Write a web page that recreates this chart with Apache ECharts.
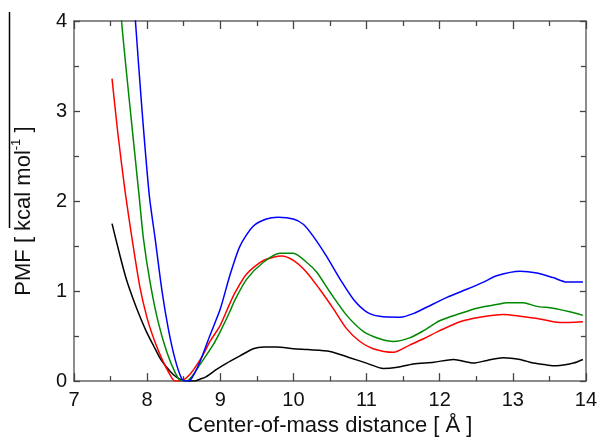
<!DOCTYPE html>
<html><head><meta charset="utf-8">
<script src="https://cdn.jsdelivr.net/npm/echarts@6/dist/echarts.min.js"></script>
<style>html,body{margin:0;padding:0;background:#fff}#c{width:600px;height:442px}</style>
</head><body><div id="c"></div>
<script>
// x: center-of-mass distance (Å), y: PMF (kcal/mol)
const xTicks = [7, 8, 9, 10, 11, 12, 13, 14];
const yTicks = [0, 1, 2, 3, 4];

const blackPMF = [[7.52,1.75],[7.63,1.39],[7.72,1.12],[7.81,0.91],[7.90,0.72],[7.99,0.55],[8.09,0.39],[8.18,0.25],[8.27,0.15],[8.36,0.07],[8.45,0.02],[8.55,0.0],[8.65,0.0],[8.72,0.02],[8.81,0.05],[8.95,0.13],[9.09,0.20],[9.27,0.28],[9.45,0.36],[9.6,0.38],[9.77,0.38],[10.0,0.36],[10.2,0.35],[10.5,0.33],[10.77,0.26],[11.0,0.20],[11.23,0.14],[11.4,0.15],[11.64,0.19],[11.92,0.21],[12.19,0.24],[12.46,0.20],[12.65,0.23],[12.87,0.26],[13.1,0.24],[13.28,0.20],[13.46,0.18],[13.6,0.17],[13.83,0.20],[13.96,0.24]];

const redPMF = [[7.52,3.36],[7.6,2.75],[7.7,2.1],[7.8,1.55],[7.9,1.05],[8.0,0.7],[8.1,0.45],[8.2,0.25],[8.3,0.09],[8.38,0.0],[8.49,0.01],[8.58,0.07],[8.68,0.18],[8.77,0.30],[8.86,0.44],[9.0,0.62],[9.13,0.86],[9.2,0.98],[9.36,1.19],[9.59,1.34],[9.84,1.39],[10.0,1.34],[10.18,1.21],[10.36,1.02],[10.55,0.80],[10.73,0.58],[10.91,0.44],[11.09,0.36],[11.37,0.32],[11.59,0.40],[11.78,0.47],[12.0,0.56],[12.28,0.66],[12.55,0.71],[12.87,0.74],[13.1,0.72],[13.37,0.69],[13.64,0.65],[13.96,0.66]];

const greenPMF = [[7.52,5.4],[7.65,4.0],[7.77,3.01],[7.89,2.06],[7.95,1.58],[8.04,1.10],[8.15,0.66],[8.27,0.32],[8.38,0.10],[8.45,0.01],[8.54,0.0],[8.63,0.07],[8.72,0.18],[8.90,0.40],[9.0,0.55],[9.13,0.77],[9.2,0.90],[9.36,1.13],[9.59,1.32],[9.82,1.42],[10.0,1.42],[10.18,1.32],[10.32,1.21],[10.5,0.99],[10.73,0.73],[10.96,0.55],[11.18,0.47],[11.37,0.44],[11.59,0.48],[11.78,0.56],[12.0,0.67],[12.28,0.75],[12.51,0.81],[12.78,0.85],[12.92,0.87],[13.14,0.87],[13.33,0.83],[13.55,0.81],[13.78,0.77],[13.96,0.73]];

const bluePMF = [[7.52,8.0],[7.7,5.6],[7.84,4.0],[7.93,3.01],[8.03,2.06],[8.11,1.58],[8.20,1.02],[8.29,0.58],[8.38,0.25],[8.47,0.03],[8.52,0.0],[8.59,0.01],[8.72,0.21],[8.86,0.51],[9.0,0.80],[9.13,1.17],[9.27,1.50],[9.45,1.72],[9.63,1.80],[9.79,1.82],[10.0,1.80],[10.14,1.74],[10.27,1.61],[10.45,1.39],[10.64,1.13],[10.82,0.91],[11.0,0.77],[11.18,0.72],[11.46,0.71],[11.64,0.75],[11.82,0.82],[12.10,0.93],[12.37,1.02],[12.60,1.10],[12.78,1.17],[13.10,1.22],[13.33,1.20],[13.55,1.15],[13.74,1.10],[13.96,1.10]];

const seriesDefs = [
  {name: 'black', data: blackPMF, color: '#000000'},
  {name: 'red', data: redPMF, color: '#ff0000'},
  {name: 'green', data: greenPMF, color: '#008800'},
  {name: 'blue', data: bluePMF, color: '#0000ff'}
];

const font = '"Liberation Sans", Arial, sans-serif';
const axisColor = '#666666';
const tickColor = '#444444';
const xMin = xTicks[0], xMax = xTicks[xTicks.length - 1];
const yMin = yTicks[0], yMax = yTicks[yTicks.length - 1];

function xAxis(pos, showLabel) {
  return {
    type: 'value', min: xMin, max: xMax, interval: 1, position: pos,
    axisLine: {show: true, onZero: false, lineStyle: {color: axisColor, width: 1.5}},
    axisTick: {show: true, inside: true, length: 8, lineStyle: {color: tickColor, width: 1.3}},
    minorTick: {show: true, splitNumber: 2, length: 5, lineStyle: {color: tickColor, width: 1.3}},
    splitLine: {show: false},
    axisLabel: {show: showLabel, fontSize: 20, color: '#111', fontFamily: font, margin: 9},
    name: showLabel ? 'Center-of-mass distance [ Å ]' : '',
    nameLocation: 'middle', nameGap: 33,
    nameTextStyle: {fontSize: 22, color: '#111', fontFamily: font}
  };
}
function yAxis(pos, showLabel) {
  return {
    type: 'value', min: yMin, max: yMax, interval: 1, position: pos,
    axisLine: {show: true, onZero: false, lineStyle: {color: axisColor, width: 1.5}},
    axisTick: {show: true, inside: true, length: 6, lineStyle: {color: tickColor, width: 1.3}},
    minorTick: {show: true, splitNumber: 2, length: 5, lineStyle: {color: tickColor, width: 1.3}},
    splitLine: {show: false},
    axisLabel: {show: showLabel, fontSize: 20, color: '#111', fontFamily: font, margin: 7},
    name: showLabel ? '{a|PMF [ kcal mol}{s|-1}{a| ]}' : '',
    nameLocation: 'middle', nameGap: 36, nameRotate: 90,
    nameTextStyle: {
      fontFamily: font, color: '#111', padding: [0, 20, 0, 0],
      rich: {
        a: {fontSize: 22, fontFamily: font, color: '#111', lineHeight: 28},
        s: {fontSize: 13, fontFamily: font, color: '#111', verticalAlign: 'top', lineHeight: 14}
      }
    }
  };
}

const chart = echarts.init(document.getElementById('c'));
chart.setOption({
  animation: false,
  backgroundColor: '#ffffff',
  grid: {left: 74, right: 14, top: 21, bottom: 59},
  xAxis: [xAxis('bottom', true), xAxis('top', false)],
  yAxis: [yAxis('left', true), yAxis('right', false)],
  graphic: [{
    type: 'line', shape: {x1: 9.5, y1: 12, x2: 9.5, y2: 228},
    style: {stroke: '#000', lineWidth: 1.5}
  }],
  series: seriesDefs.map(s => ({
    type: 'line', name: s.name, data: s.data, xAxisIndex: 0, yAxisIndex: 0,
    showSymbol: false, smooth: 0.25, clip: true,
    lineStyle: {color: s.color, width: 1.5}, itemStyle: {color: s.color}
  }))
});
</script></body></html>
